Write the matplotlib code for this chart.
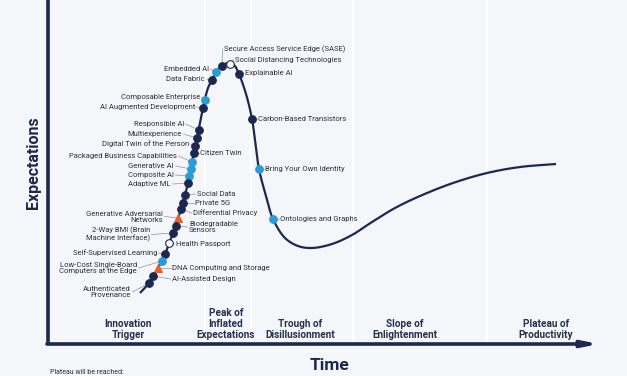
import numpy as np
import matplotlib
matplotlib.use("Agg")
import matplotlib.pyplot as plt

# ---------------- data ----------------
# hype-cycle curve (time, expectations)
curve_time = [140, 149, 158, 165, 173, 181, 188, 192, 197, 203, 208, 212, 216, 222, 228,
              234, 239, 246, 252, 259, 266, 273, 285, 298, 312, 332, 352, 372, 395, 420,
              453, 487, 520, 556]
curve_exp = [51, 61, 76, 90, 111, 135, 161, 182, 206, 236, 256, 264, 272, 278, 281,
             279, 270, 250, 225, 175, 148, 125, 106, 98, 96, 100, 109, 122, 136, 148,
             161, 171, 177, 180]

tech_names = [
    "Secure Access Service Edge (SASE)", "Social Distancing Technologies", "Explainable AI",
    "Embedded AI", "Data Fabric", "Composable Enterprise", "AI Augmented Development",
    "Responsible AI", "Multiexperience", "Digital Twin of the Person", "Citizen Twin",
    "Packaged Business Capabilities", "Generative AI", "Composite AI", "Adaptive ML",
    "Social Data", "Private 5G", "Differential Privacy", "Generative Adversarial\nNetworks",
    "Biodegradable\nSensors", "2-Way BMI (Brain\nMachine Interface)", "Health Passport",
    "Self-Supervised Learning", "Low-Cost Single-Board\nComputers at the Edge",
    "DNA Computing and Storage", "AI-Assisted Design", "Authenticated\nProvenance",
    "Carbon-Based Transistors", "Bring Your Own Identity", "Ontologies and Graphs",
]
tech_time = [222, 230, 239, 216, 212, 205, 203, 199, 197, 195, 194, 192, 191, 189, 188,
             185, 183, 181, 178, 176, 173, 169, 165, 162, 158, 153, 149, 252, 259, 273]
tech_exp = [278, 280, 270, 272, 264, 244, 236, 214, 206, 198, 191, 182, 175, 168, 161,
            149, 141, 135, 126, 118, 111, 101, 90, 83, 76, 68, 61, 225, 175, 125]
# years to plateau
tech_years = ["5-10", "<2", "5-10", "2-5", "5-10", "2-5", "5-10", "5-10", "5-10", "5-10",
              "5-10", "2-5", "2-5", "2-5", "5-10", "5-10", "5-10", "5-10", ">10", "5-10",
              "5-10", "<2", "5-10", "2-5", ">10", "5-10", "5-10", "5-10", "2-5", "2-5"]

phase_names = ["Innovation\nTrigger", "Peak of\nInflated\nExpectations", "Trough of\nDisillusionment",
               "Slope of\nEnlightenment", "Plateau of\nProductivity"]
phase_bounds = [205, 251, 353, 487]

# ---------------- layout (label anchor positions) ----------------
label_pos = [
    (224, 295, "left"), (235, 284, "left"), (245, 271, "left"),
    (209, 275, "right"), (205, 265, "right"), (200, 247, "right"), (195, 237, "right"),
    (184, 220, "right"), (182, 210, "right"), (189, 200, "right"), (200, 191, "left"),
    (177, 188, "right"), (174, 178, "right"), (174, 169, "right"), (171, 160, "right"),
    (197, 150, "left"), (195, 141, "left"), (193, 131, "left"), (163, 127.5, "right"),
    (189, 117, "left"), (150, 109.5, "right"), (176, 100, "left"),
    (157, 91, "right"), (137, 76, "right"),
    (172, 76, "left"), (172, 65, "left"), (131, 52, "right"),
    (258, 225, "left"), (265, 175, "left"), (280, 125, "left"),
]
phase_x = [128, 226, 300, 405, 546]

BG = "#f4f6f9"
NAVY = "#1c2850"
CYAN = "#2b9bd6"
ORANGE = "#e8612c"
TXT = "#2b3040"

style = {
    "5-10": dict(marker="o", fc=NAVY, ec=NAVY),
    "2-5": dict(marker="o", fc=CYAN, ec=CYAN),
    "<2": dict(marker="o", fc="white", ec=NAVY),
    ">10": dict(marker="^", fc=ORANGE, ec=ORANGE),
}


def catmull_rom(xs, ys, n=30, alpha=0.5):
    pts = np.column_stack([xs, ys]).astype(float)
    pts = np.vstack([2 * pts[0] - pts[1], pts, 2 * pts[-1] - pts[-2]])
    out = []
    for i in range(1, len(pts) - 2):
        p0, p1, p2, p3 = pts[i - 1], pts[i], pts[i + 1], pts[i + 2]
        t0 = 0.0
        t1 = t0 + np.linalg.norm(p1 - p0) ** alpha
        t2 = t1 + np.linalg.norm(p2 - p1) ** alpha
        t3 = t2 + np.linalg.norm(p3 - p2) ** alpha
        t = np.linspace(t1, t2, n)[:, None]
        a1 = (t1 - t) / (t1 - t0) * p0 + (t - t0) / (t1 - t0) * p1
        a2 = (t2 - t) / (t2 - t1) * p1 + (t - t1) / (t2 - t1) * p2
        a3 = (t3 - t) / (t3 - t2) * p2 + (t - t2) / (t3 - t2) * p3
        b1 = (t2 - t) / (t2 - t0) * a1 + (t - t0) / (t2 - t0) * a2
        b2 = (t3 - t) / (t3 - t1) * a2 + (t - t1) / (t3 - t1) * a3
        c = (t2 - t) / (t2 - t1) * b1 + (t - t1) / (t2 - t1) * b2
        out.append(c)
    c = np.vstack(out)
    return c[:, 0], c[:, 1]


fig = plt.figure(figsize=(6.27, 3.76), dpi=100, facecolor=BG)
ax = fig.add_axes([0, 0, 1, 1])
ax.set_facecolor(BG)
ax.set_xlim(0, 627)
ax.set_ylim(-32, 344)
ax.axis("off")

# phase dividers
for b in phase_bounds:
    ax.plot([b, b], [0, 344], color="white", lw=1.5, zorder=1)

# axes
ax.plot([48, 48], [0, 345], color=NAVY, lw=2.6, zorder=3, solid_capstyle="butt")
ax.annotate("", xy=(599, 0), xytext=(47, 0),
            arrowprops=dict(arrowstyle="-|>,head_length=0.9,head_width=0.18", color=NAVY,
                            lw=2.6, shrinkA=0, shrinkB=0), zorder=3)

# curve
cx, cy = catmull_rom(curve_time, curve_exp)
ax.plot(cx, cy, color=NAVY, lw=1.6, zorder=4, solid_capstyle="butt")

# leader lines and labels
for name, x, y, (lx, ly, ha) in zip(tech_names, tech_time, tech_exp, label_pos):
    gap = -1.5 if ha == "left" else 1.5
    ax.plot([lx + gap, x], [ly, y], color="#8c919c", lw=0.5, zorder=3)
    ax.text(lx, ly, name, ha=ha, va="center", fontsize=5.5, color=TXT,
            family="Roboto", linespacing=1.0, zorder=6)

# markers
for x, y, yr in zip(tech_time, tech_exp, tech_years):
    s = style[yr]
    ax.scatter([x], [y], s=30 if s["marker"] == "o" else 34, marker=s["marker"],
               facecolor=s["fc"], edgecolor=s["ec"], linewidth=0.8, zorder=5)

# phase labels
for name, px in zip(phase_names, phase_x):
    ax.text(px, 4.5, name, ha="center", va="bottom", fontsize=7.2, fontweight="bold",
            color="#26304f", family="Roboto", linespacing=1.12, zorder=6)

ax.text(330, -21, "Time", ha="center", va="center", fontsize=12.5, fontweight="bold",
        color="#1e2749", family="Roboto")
ax.text(34, 181, "Expectations", ha="center", va="center", rotation=90, fontsize=11.5,
        fontweight="bold", color="#1e2749", family="Roboto")
ax.text(50, -31.5, "Plateau will be reached:", ha="left", va="bottom", fontsize=5,
        color=TXT, family="Roboto")

fig.savefig("out.png", dpi=100, facecolor=BG)
